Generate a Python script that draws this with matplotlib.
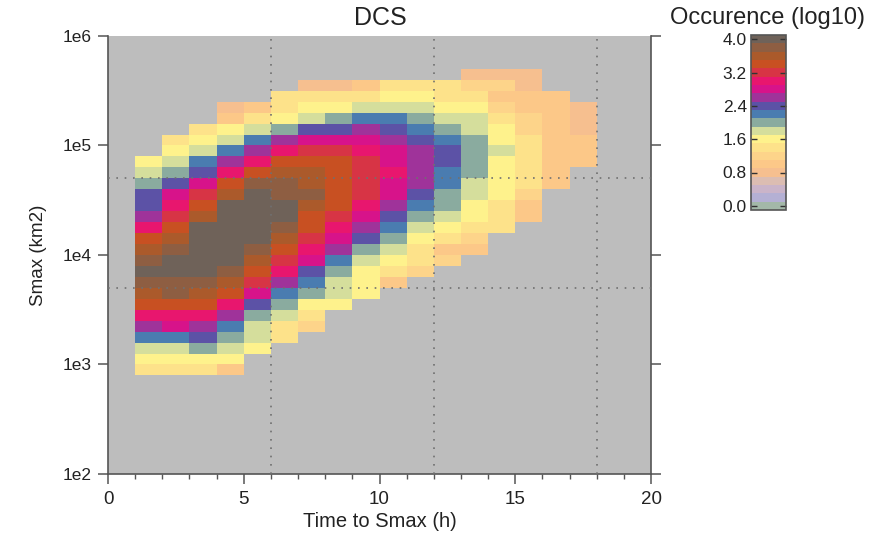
import numpy as np
import matplotlib
matplotlib.use("Agg")
import matplotlib.pyplot as plt
from matplotlib.colors import ListedColormap, BoundaryNorm
from matplotlib.ticker import FixedLocator, MultipleLocator, NullLocator

plt.rcParams['font.family'] = ['Liberation Sans', 'DejaVu Sans']

# ---------------- data ----------------
# histogram bins: 1 h in time, 0.1 in log10(Smax)
time_edges = np.arange(0, 21, 1)
log_edges = np.round(np.arange(2.0, 6.001, 0.1), 1)

# left edge (h) of each populated time column and log10 of its lowest Smax bin
col_start_hour = [1, 2, 3, 4, 5, 6, 7, 8, 9, 10, 11, 12, 13, 14, 15, 16, 17]
col_bottom_log = [2.9, 2.9, 2.9, 2.9, 3.1, 3.2, 3.3, 3.5, 3.6, 3.7, 3.8, 3.9, 4.0, 4.2, 4.3, 4.6, 4.8]

# log10(occurrence), from the lowest Smax bin upwards
col01 = [1.4, 1.6, 1.8, 2.2, 2.6, 3.0, 3.4, 3.6, 3.8, 4.0, 3.8, 3.6, 3.4, 3.0, 2.6, 2.4, 2.4, 2.0, 1.8, 1.6]
col02 = [1.4, 1.6, 1.8, 2.2, 2.8, 3.0, 3.4, 3.8, 3.8, 4.0, 4.0, 3.8, 3.6, 3.4, 3.2, 3.0, 2.8, 2.4, 2.0, 1.8, 1.6, 1.4]
col03 = [1.4, 1.6, 2.0, 2.4, 2.6, 3.0, 3.4, 3.6, 3.8, 4.0, 4.0, 4.0, 4.0, 4.0, 3.6, 3.4, 3.2, 2.8, 2.4, 2.2, 1.8, 1.6, 1.4]
col04 = [1.0, 1.6, 1.8, 2.0, 2.2, 2.6, 3.0, 3.4, 3.6, 3.8, 4.0, 4.0, 4.0, 4.0, 4.0, 4.0, 3.6, 3.4, 3.0, 2.6, 2.2, 1.8, 1.6, 1.0, 0.8]
col05 = [1.6, 1.8, 1.8, 2.0, 2.4, 2.8, 3.2, 3.4, 3.6, 3.8, 4.0, 4.0, 4.0, 4.0, 4.0, 3.8, 3.4, 3.0, 2.6, 2.2, 1.8, 1.4, 1.0]
col06 = [1.4, 1.4, 1.8, 2.0, 2.2, 2.6, 3.0, 3.2, 3.4, 3.6, 3.8, 4.0, 4.0, 3.8, 3.8, 3.6, 3.4, 3.0, 2.6, 2.0, 1.6, 1.4, 1.4]
col07 = [1.2, 1.4, 1.6, 2.0, 2.2, 2.4, 2.8, 3.0, 3.2, 3.4, 3.4, 3.6, 3.8, 3.6, 3.6, 3.4, 3.2, 2.8, 2.4, 1.8, 1.6, 1.4, 0.8]
col08 = [1.6, 1.8, 1.8, 2.0, 2.2, 2.6, 2.8, 3.0, 3.2, 3.4, 3.4, 3.4, 3.4, 3.4, 3.2, 2.8, 2.4, 2.0, 1.6, 1.4, 0.8]
col09 = [1.6, 1.6, 1.6, 1.8, 2.0, 2.4, 2.6, 2.8, 3.0, 3.2, 3.2, 3.2, 3.2, 3.0, 2.8, 2.6, 2.2, 1.8, 1.4, 1.0]
col10 = [1.0, 1.4, 1.6, 1.8, 2.0, 2.2, 2.4, 2.6, 2.8, 2.8, 3.0, 2.8, 2.8, 2.6, 2.4, 2.2, 1.8, 1.6, 1.4]
col11 = [1.2, 1.4, 1.4, 1.6, 1.8, 2.0, 2.2, 2.4, 2.6, 2.6, 2.6, 2.6, 2.4, 2.2, 2.0, 1.8, 1.6, 1.4]
col12 = [1.2, 1.0, 1.4, 1.6, 1.8, 2.0, 2.0, 2.2, 2.2, 2.4, 2.4, 2.2, 2.0, 1.8, 1.6, 1.4, 1.4]
col13 = [1.0, 1.2, 1.4, 1.6, 1.6, 1.8, 1.8, 2.0, 2.0, 2.0, 2.0, 1.8, 1.8, 1.6, 1.4, 1.2, 0.8]
col14 = [1.4, 1.4, 1.4, 1.6, 1.6, 1.6, 1.6, 1.8, 1.6, 1.6, 1.4, 1.2, 1.0, 1.2, 0.8]
col15 = [1.0, 1.0, 1.2, 1.4, 1.4, 1.4, 1.4, 1.4, 1.2, 1.2, 1.0, 1.0, 0.8, 0.8]
col16 = [1.0, 1.0, 1.0, 1.0, 1.0, 1.0, 1.0, 1.0, 1.0]
col17 = [1.0, 1.0, 1.0, 0.8, 0.8, 0.8]

columns = [col01, col02, col03, col04, col05, col06, col07, col08, col09,
           col10, col11, col12, col13, col14, col15, col16, col17]

cbar_ticks = [0.0, 0.8, 1.6, 2.4, 3.2, 4.0]
x_ticks = [0, 5, 10, 15, 20]
y_ticks = [1e2, 1e3, 1e4, 1e5, 1e6]
y_tick_labels = ['1e2', '1e3', '1e4', '1e5', '1e6']
guide_hours = [6, 12, 18]
guide_smax = [5e3, 5e4]

# discrete palette, one colour per 0.2 step from 0.0 to 4.0
palette = ['#a3b8a8', '#b4b0d4', '#cab4c9', '#dcbdb2', '#f6bf8f', '#fcc888',
           '#fdd48a', '#fde28a', '#fef28c', '#d5de9c', '#8aab9f', '#4a7cb0',
           '#5c52a6', '#9f339a', '#d7138a', '#e8166e', '#d73445', '#c85022',
           '#ab5a2b', '#8e5e42', '#6f6259']

# ---------------- grid ----------------
Z = np.full((len(log_edges) - 1, len(time_edges) - 1), np.nan)
for hour, bottom, vals in zip(col_start_hour, col_bottom_log, columns):
    r0 = int(round((bottom - log_edges[0]) / 0.1))
    Z[r0:r0 + len(vals), hour] = vals
Z = np.ma.masked_invalid(Z)

cmap = ListedColormap(palette)
bounds = np.round(np.arange(-0.1, 4.11, 0.2), 2)
norm = BoundaryNorm(bounds, cmap.N)

# ---------------- figure ----------------
W, H = 876, 535
fig = plt.figure(figsize=(W / 100, H / 100), dpi=100)
ax = fig.add_axes([108 / W, 1 - 474 / H, 543 / W, 438 / H])
ax.set_facecolor('#bdbdbd')

mesh = ax.pcolormesh(time_edges, 10.0 ** log_edges, Z, cmap=cmap, norm=norm,
                     shading='flat', zorder=1)
ax.set_yscale('log')
ax.set_xlim(0, 20)
ax.set_ylim(1e2, 1e6)

for h in guide_hours:
    ax.axvline(h, color='#707070', lw=1.2, ls=(0, (1, 4)), zorder=3)
for s in guide_smax:
    ax.axhline(s, color='#707070', lw=1.2, ls=(0, (1, 4)), zorder=3)

spine_c = '#555555'
ax.spines['top'].set_visible(False)
for side in ['left', 'bottom', 'right']:
    ax.spines[side].set_color(spine_c)
    ax.spines[side].set_linewidth(1.2)

ax.xaxis.set_major_locator(FixedLocator(x_ticks))
ax.xaxis.set_minor_locator(MultipleLocator(1))
ax.yaxis.set_major_locator(FixedLocator(y_ticks))
ax.yaxis.set_minor_locator(NullLocator())
ax.set_yticklabels(y_tick_labels)
ax.tick_params(axis='both', which='major', direction='out', length=7, width=1.1,
               color=spine_c, labelcolor='#222222', pad=5)
ax.tick_params(axis='y', which='major', labelsize=12.5, left=True, right=True,
               labelright=False)
ax.tick_params(axis='x', which='major', labelsize=13.5)
ax.tick_params(axis='x', which='minor', direction='out', length=3.5, width=1.0, color=spine_c)

ax.set_xlabel('Time to Smax (h)', fontsize=14.5, color='#222222', labelpad=3)
ax.set_ylabel('Smax (km2)', fontsize=13.5, color='#222222', labelpad=11)
fig.text(380 / W, 1 - 18 / H, 'DCS', ha='center', va='center', fontsize=18, color='#222222')

# ---------------- colour bar ----------------
cax = fig.add_axes([751 / W, 1 - 210 / H, 35 / W, 175 / H])
cb = fig.colorbar(mesh, cax=cax, ticks=cbar_ticks)
cb.minorticks_off()
cb.ax.set_ylim(-0.1, 4.1)
cb.outline.set_edgecolor('#555555')
cb.outline.set_linewidth(1.2)
cax.yaxis.set_ticks_position('both')
cax.tick_params(axis='y', which='major', direction='in', length=4, width=1.0, color='#333333',
                left=True, right=True, labelleft=True, labelright=False,
                labelsize=12.5, labelcolor='#222222', pad=3)
cax.set_yticklabels([f'{t:.1f}' for t in cbar_ticks])
fig.text(767 / W, 1 - 18 / H, 'Occurence (log10)', ha='center', va='center',
         fontsize=17, color='#222222')

fig.savefig('out.png', dpi=100)
